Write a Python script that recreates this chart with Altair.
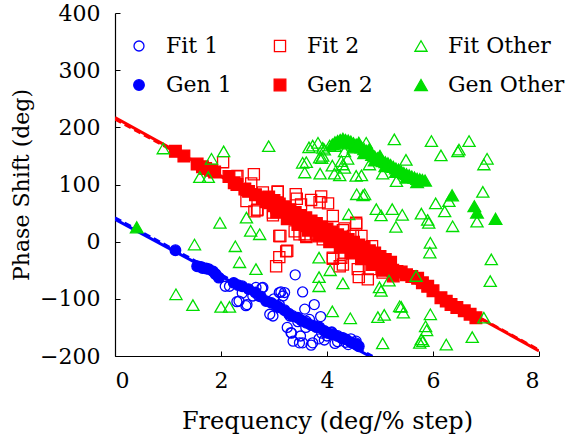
import altair as alt
import pandas as pd

# ---------------- data ----------------
fit1_x = [2.08, 2.16, 2.30, 2.34, 2.47, 2.49, 2.66, 2.71, 2.77, 2.79, 2.92, 2.98, 3.10, 3.13, 3.17, 3.20,
          3.32, 3.36, 3.33, 3.40, 3.48, 3.54, 3.54, 3.58, 3.61, 3.67, 3.70, 3.73, 3.76, 3.88, 4.08, 4.09,
          4.30, 4.54, 4.55, 4.20, 4.00, 3.90, 3.80, 3.60, 3.45, 3.30, 3.10, 3.00, 2.60, 2.40, 4.40, 4.45,
          3.95, 3.50, 3.25, 3.85, 4.15, 4.35]
fit1_y = [-78, -78, -105, -104, -112, -110, -80, -95, -81, -80, -127, -130, -89, -88, -95, -89,
          -159, -174, -160, -58, -177, -88, -177, -118, -139, -136, -181, -177, -110, -131, -159, -158,
          -168, -177, -174, -175, -165, -160, -150, -150, -140, -130, -110, -100, -95, -90, -180, -170,
          -172, -165, -150, -170, -178, -176]

gen1_x = [1.14, 1.55, 1.62, 1.65, 1.72, 1.77, 1.85, 1.90, 1.96, 2.24, 2.32, 2.40, 2.52, 2.65, 2.75, 2.85,
          2.95, 3.05, 3.10, 3.20, 3.28, 3.35, 3.45, 3.52, 3.61, 3.70, 3.78, 3.86, 3.95, 4.02, 4.11, 4.20,
          4.28, 4.36, 4.45, 4.55, 4.60]
gen1_y = [-15, -43, -44, -46, -47, -48, -52, -57, -63, -72, -76, -78, -83, -89, -96, -104,
          -107, -112, -115, -120, -126, -130, -133, -138, -142, -146, -148, -150, -156, -160, -162, -165,
          -169, -171, -176, -180, -183]

fit2_x = [2.04, 2.31, 2.29, 2.62, 2.57, 2.48, 2.68, 2.63, 2.69, 2.79, 2.98, 2.98, 3.07, 3.07, 3.04, 3.10,
          3.10, 3.23, 3.25, 3.39, 3.41, 3.43, 3.51, 3.58, 3.61, 3.61, 3.70, 3.80, 3.86, 3.89, 3.92, 4.02,
          4.11, 4.11, 4.11, 4.24, 4.27, 4.30, 4.30, 4.33, 4.33, 4.30, 4.49, 4.55, 4.55, 4.58, 4.60, 4.65,
          4.77, 4.82, 4.85, 5.05, 3.48, 3.12]
fit2_y = [139, 115, 114, 118, 102, 71, 55, 53, 56, 86, 51, 46, 88, 87, -43, -27,
          10, -17, -16, 18, 83, 75, 65, 13, 10, 8, 73, 13, 69, 79, 4, 67,
          45, -30, -28, -43, -28, -8, -40, -19, 23, 20, 10, 33, 30, -48, -62, 10,
          -66, -48, -8, -54, 13, 10]

gen2_x = [1.14, 1.30, 1.55, 1.65, 1.71, 1.80, 1.88, 2.15, 2.25, 2.30, 2.45, 2.52, 2.65, 2.78, 2.85, 2.92,
          3.00, 3.05, 3.12, 3.20, 3.28, 3.35, 3.42, 3.50, 3.58, 3.65, 3.72, 3.80, 3.88, 3.95, 4.02, 4.10,
          4.18, 4.25, 4.32, 4.40, 4.48, 4.55, 4.62, 4.70, 4.78, 4.85, 4.92, 5.00, 5.08, 5.16, 5.24, 5.32,
          5.40, 5.50, 5.60, 5.71, 5.80, 5.90, 6.00, 6.15, 6.25, 6.34, 6.45, 6.59, 6.70, 6.81,
          2.90, 3.00, 3.10, 3.20, 3.30, 3.40, 3.50, 3.60, 3.70, 3.80, 3.90, 4.00, 4.10, 4.20, 4.30, 4.40,
          4.50, 4.60, 4.70, 4.80, 4.90, 5.00, 5.10, 5.20, 3.05, 3.25, 3.45, 3.65, 3.85, 4.05, 4.25, 4.45,
          4.65, 4.85, 5.05, 5.25]
gen2_y = [158, 150, 136, 131, 128, 125, 122, 114, 103, 100, 92, 88, 82, 77, 70, 68,
          63, 60, 56, 52, 48, 44, 40, 37, 33, 29, 26, 22, 18, 15, 12, 8,
          4, 0, -3, -7, -11, -15, -18, -22, -26, -30, -34, -38, -42, -46, -50, -52,
          -53, -58, -61, -64, -72, -78, -86, -98, -104, -110, -115, -121, -127, -133,
          78, 72, 66, 61, 56, 51, 46, 42, 36, 32, 26, 22, 17, 12, 8, 4,
          -1, -6, -10, -16, -20, -26, -31, -36, 52, 40, 30, 20, 10, 0, -10, -20,
          -30, -40, -50, -60]

fito_x = [0.91, 1.15, 1.47, 1.50, 1.60, 1.76, 1.82, 1.98, 2.00, 2.05, 2.16, 2.27, 2.35, 2.48, 2.56, 2.66,
          2.73, 2.90, 3.54, 3.58, 3.61, 3.66, 3.73, 3.83, 3.86, 3.87, 3.85, 3.85, 3.85, 3.90, 3.92, 3.92,
          3.95, 4.05, 4.06, 4.10, 4.10, 4.14, 4.15, 4.24, 4.27, 4.30, 4.30, 4.33, 4.33, 4.39, 4.41, 4.44,
          4.55, 4.56, 4.65, 4.68, 4.71, 4.74, 4.80, 4.93, 4.96, 4.99, 5.02, 5.02, 5.05, 5.05, 5.08, 5.17,
          5.23, 5.27, 5.30, 5.31, 5.37, 5.40, 5.42, 5.44, 5.49, 5.68, 5.75, 5.78, 5.78, 5.81, 5.86, 5.88,
          5.90, 5.92, 5.95, 5.94, 5.95, 5.97, 6.05, 6.15, 6.22, 6.25, 6.30, 6.37, 6.47, 6.49, 6.68, 6.74,
          6.83, 6.94, 6.96, 6.96, 7.02, 7.08, 7.10]
fito_y = [163, -92, -111, -5, 113, 113, 145, 33, -114, 158, -114, -8, -36, 42, 19, -48,
          13, 167, 138, 121, 139, 165, 168, 173, 147, 119, -28, -62, -78, 146, 164, 150,
          161, 168, -50, 133, -122, 119, 167, 116, 141, 135, -73, 158, 129, 145, 48, -134,
          115, 83, 116, 81, 83, 173, 135, 57, -132, -80, 46, -86, 119, -178, -128, -68,
          57, 179, 26, 106, -113, -114, 47, -124, 143, -60, -177, 49, -171, -174, -148, -155,
          38, 33, -2, -19, -127, 176, 67, 151, 53, -180, 71, 27, 158, 161, 176, -167,
          35, 87, 135, -133, 145, -69, -31]

geno_x = [4.10, 4.15, 4.20, 4.25, 4.30, 4.35, 4.40, 4.45, 4.50, 4.55, 4.60, 4.65, 4.70, 4.75, 4.80, 4.85,
          4.90, 4.95, 5.00, 5.05, 5.10, 5.15, 5.20, 5.25, 5.30, 5.35, 5.40, 5.45, 5.50, 5.55, 5.60, 5.65,
          5.70, 5.75, 5.80, 5.85, 4.30, 4.50, 4.70, 4.90, 5.10, 5.30, 5.50, 5.70, 4.60, 4.80, 5.00,
          0.41, 6.36, 6.78, 6.83, 7.18]
geno_y = [170, 174, 176, 178, 180, 178, 177, 175, 172, 170, 167, 165, 162, 159, 156, 152,
          149, 146, 144, 141, 139, 137, 134, 131, 128, 126, 123, 120, 118, 116, 114, 112,
          110, 109, 108, 107, 172, 165, 155, 142, 132, 122, 112, 104, 173, 162, 150,
          25, 81, 62, 51, 40]

# fitted lines (solid and dashed)
line1_x, line1_y = [0.0, 4.80], [39, -200]
line1d_x, line1d_y = [0.0, 4.86], [42, -200]
line2_x, line2_y = [0.0, 8.0], [217, -191]
line2d_x, line2d_y = [0.0, 8.0], [214, -189]

# legend order (column-major: Fit above Gen in each column)
series_names = ["Fit 1", "Gen 1", "Fit 2", "Gen 2", "Fit Other", "Gen Other"]
x_ticks = [0, 2, 4, 6, 8]
y_ticks = [-200, -100, 0, 100, 200, 300, 400]

# ---------------- tables ----------------
def pts(name, xs, ys):
    return pd.DataFrame({"x": xs, "y": ys, "series": name})

points_df = pd.concat([
    pts("Fit 1", fit1_x, fit1_y),
    pts("Gen 1", gen1_x, gen1_y),
    pts("Fit 2", fit2_x, fit2_y),
    pts("Gen 2", gen2_x, gen2_y),
    pts("Fit Other", fito_x, fito_y),
    pts("Gen Other", geno_x, geno_y),
], ignore_index=True)

solid_df = pd.concat([
    pd.DataFrame({"x": line1_x, "y": line1_y, "line": "L1"}),
    pd.DataFrame({"x": line2_x, "y": line2_y, "line": "L2"}),
], ignore_index=True)
dash_df = pd.concat([
    pd.DataFrame({"x": line1d_x, "y": line1d_y, "line": "L1"}),
    pd.DataFrame({"x": line2d_x, "y": line2d_y, "line": "L2"}),
], ignore_index=True)

BLUE, RED, GREEN = "#0000ff", "#ff0000", "#00dd00"
FONT = "DejaVu Serif"
W, H = 424, 343

xs = alt.Scale(domain=[0, 8], nice=False, zero=False)
ys = alt.Scale(domain=[-200, 400], nice=False, zero=False)

line_color = alt.Color("line:N", scale=alt.Scale(domain=["L1", "L2"], range=[BLUE, RED]), legend=None)

solid = alt.Chart(solid_df).mark_line(strokeWidth=3, clip=True).encode(
    x=alt.X("x:Q", scale=xs, axis=alt.Axis(orient="top", offset=-H, labels=False, domain=False,
                                          tickSize=5, tickColor="black", tickWidth=1, values=x_ticks,
                                          title=None, grid=False)),
    y=alt.Y("y:Q", scale=ys, axis=alt.Axis(orient="right", offset=-W, labels=False, domain=False,
                                          tickSize=5, tickColor="black", tickWidth=1, values=y_ticks,
                                          title=None, grid=False)),
    color=line_color,
    detail="line:N",
)

dashed = alt.Chart(dash_df).mark_line(strokeWidth=2.5, strokeDash=[7, 4], clip=True).encode(
    x=alt.X("x:Q", scale=xs, axis=None),
    y=alt.Y("y:Q", scale=ys, axis=None),
    color=line_color,
    detail="line:N",
)

dom = series_names
points = alt.Chart(points_df).mark_point(filled=True, opacity=1, strokeWidth=1.3).encode(
    x=alt.X("x:Q", scale=xs, axis=alt.Axis(title="Frequency (deg/% step)", values=x_ticks, ticks=False,
                                          grid=False, labelPadding=14, titlePadding=18, titleFontSize=24)),
    y=alt.Y("y:Q", scale=ys, axis=alt.Axis(title="Phase Shift (deg)", values=y_ticks, ticks=False,
                                          grid=False, labelPadding=15, titlePadding=6)),
    shape=alt.Shape("series:N", scale=alt.Scale(domain=dom, range=["circle", "circle", "square", "square",
                                                                  "triangle-up", "triangle-up"]),
                    legend=alt.Legend(title=None, orient="none", legendX=13, legendY=22, columns=3,
                                      direction="vertical",
                                      columnPadding=37, rowPadding=17, labelOffset=16,
                                      labelFont=FONT, labelFontSize=22, labelColor="black",
                                      symbolStrokeWidth=1.3, padding=0)),
    stroke=alt.Stroke("series:N", scale=alt.Scale(domain=dom, range=[BLUE, BLUE, RED, RED, GREEN, GREEN])),
    fill=alt.Fill("series:N", scale=alt.Scale(domain=dom, range=["transparent", BLUE, "transparent", RED,
                                                                "transparent", GREEN])),
    size=alt.Size("series:N", scale=alt.Scale(domain=dom, range=[100, 160, 64, 100, 160, 190])),
)

chart = alt.layer(solid, dashed, points).resolve_axis(x="independent", y="independent").properties(
    width=W, height=H,
    autosize=alt.AutoSizeParams(type="none"),
    padding={"left": 115, "top": 13, "right": 34, "bottom": 81},
).configure_view(stroke=None).configure_axis(
    labelFont=FONT, labelFontSize=22, labelColor="black",
    titleFont=FONT, titleFontSize=22, titleFontWeight="normal", titleColor="black",
    domainColor="black", domainWidth=1.2,
)

chart.save("out.html", embed_options={"renderer": "svg", "actions": False})
